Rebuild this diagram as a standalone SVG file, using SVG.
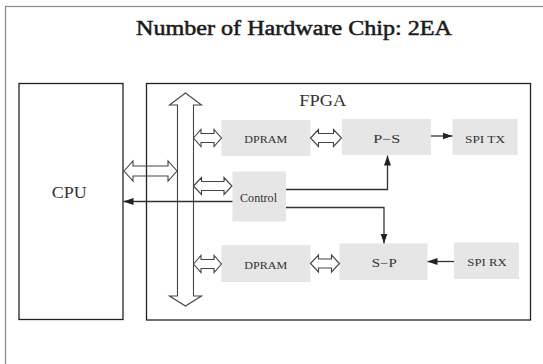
<svg xmlns="http://www.w3.org/2000/svg" width="543" height="364" viewBox="0 0 543 364">
<style>
.frame{fill:#fff;stroke:#888;stroke-width:1.2}
.blk{fill:#fff;stroke:#222;stroke-width:1.3}
.box{fill:#e6e6e6;stroke:none}
.dbl{fill:none;stroke:#444;stroke-width:1.1;stroke-linejoin:miter}
.ln{fill:none;stroke:#333;stroke-width:1.3}
.t{font-family:"Liberation Serif","Times New Roman",serif;fill:#333}
.title{font-family:"Liberation Serif","Times New Roman",serif;fill:#1a1a1a;stroke:#1a1a1a;stroke-width:0.5;font-size:20px}
.s{font-size:11px}
</style>
<defs>
<marker id="ah" markerUnits="userSpaceOnUse" markerWidth="10" markerHeight="8" refX="10" refY="4" orient="auto">
<path d="M0,0.5 L10,4 L0,7.5 Z" fill="#222"/>
</marker>
</defs>
<rect class="frame" x="5.5" y="6.5" width="600" height="420"/>
<text class="title" x="136" y="35" textLength="316" lengthAdjust="spacingAndGlyphs">Number of Hardware Chip: 2EA</text>
<g id="cpu">
<rect class="blk" x="19" y="83.5" width="104" height="236"/>
<text class="t" x="51.7" y="198" font-size="17" textLength="35" lengthAdjust="spacingAndGlyphs">CPU</text>
</g>
<g id="fpga">
<rect class="blk" x="146.5" y="83.5" width="384" height="236.5"/>
<text class="t" x="299.3" y="106" font-size="17" textLength="47" lengthAdjust="spacingAndGlyphs">FPGA</text>
</g>
<g id="dpram-tx">
<rect class="box" x="221.5" y="120" width="89" height="36"/>
<text class="t s" x="244.3" y="143.3" textLength="43" lengthAdjust="spacingAndGlyphs">DPRAM</text>
</g>
<g id="p-s">
<rect class="box" x="342" y="119" width="89" height="36"/>
<text class="t" x="373.3" y="142.7" font-size="12" textLength="27" lengthAdjust="spacingAndGlyphs">P−S</text>
</g>
<g id="spi-tx">
<rect class="box" x="452.5" y="119" width="65" height="36"/>
<text class="t s" x="465" y="142.7" textLength="40" lengthAdjust="spacingAndGlyphs">SPI TX</text>
</g>
<g id="control">
<rect class="box" x="232.5" y="171.5" width="53.5" height="50"/>
<text class="t" x="240" y="201.5" font-size="12" textLength="37" lengthAdjust="spacingAndGlyphs">Control</text>
</g>
<g id="dpram-rx">
<rect class="box" x="221.5" y="245" width="89" height="37"/>
<text class="t s" x="244.3" y="269.3" textLength="43" lengthAdjust="spacingAndGlyphs">DPRAM</text>
</g>
<g id="s-p">
<rect class="box" x="339.5" y="243.5" width="88" height="36.5"/>
<text class="t" x="371.7" y="266.7" font-size="12" textLength="25" lengthAdjust="spacingAndGlyphs">S−P</text>
</g>
<g id="spi-rx">
<rect class="box" x="454" y="242.5" width="65" height="36.5"/>
<text class="t s" x="467.3" y="266" textLength="39.4" lengthAdjust="spacingAndGlyphs">SPI RX</text>
</g>
<g id="connectors">
<path class="dbl" d="M185.5,93 L201.5,105 L193.5,105 L193.5,296 L201.5,296 L185.5,306 L169.5,296 L177.5,296 L177.5,105 L169.5,105 Z"/>
<path class="dbl" d="M124,171 L133,161 L133,166 L168,166 L168,161 L177,171 L168,181 L168,176 L133,176 L133,181 Z"/>
<path class="dbl" d="M193.5,138 L201,129.5 L201,133.5 L214,133.5 L214,129.5 L221.5,138 L214,146.5 L214,142.5 L201,142.5 L201,146.5 Z"/>
<path class="dbl" d="M193.5,186 L201.5,177.5 L201.5,181.5 L224,181.5 L224,177.5 L232,186 L224,194.5 L224,190.5 L201.5,190.5 L201.5,194.5 Z"/>
<path class="dbl" d="M193.5,264 L201,255.5 L201,259.5 L214,259.5 L214,255.5 L221.5,264 L214,272.5 L214,268.5 L201,268.5 L201,272.5 Z"/>
<path class="dbl" d="M310.5,138 L318.5,129.5 L318.5,133.5 L333.5,133.5 L333.5,129.5 L341.5,138 L333.5,146.5 L333.5,142.5 L318.5,142.5 L318.5,146.5 Z"/>
<path class="dbl" d="M310.5,263.5 L318.5,255 L318.5,259 L331.5,259 L331.5,255 L339.5,263.5 L331.5,272 L331.5,268 L318.5,268 L318.5,272 Z"/>
<path class="ln" d="M232.5,201.5 H123.5" marker-end="url(#ah)"/>
<path class="ln" d="M286,189.5 H387.5 V155.5" marker-end="url(#ah)"/>
<path class="ln" d="M286,207.5 H384 V243.5" marker-end="url(#ah)"/>
<path class="ln" d="M431,136 H452.5" marker-end="url(#ah)"/>
<path class="ln" d="M454,261.5 H427.5" marker-end="url(#ah)"/>
</g>
</svg>
